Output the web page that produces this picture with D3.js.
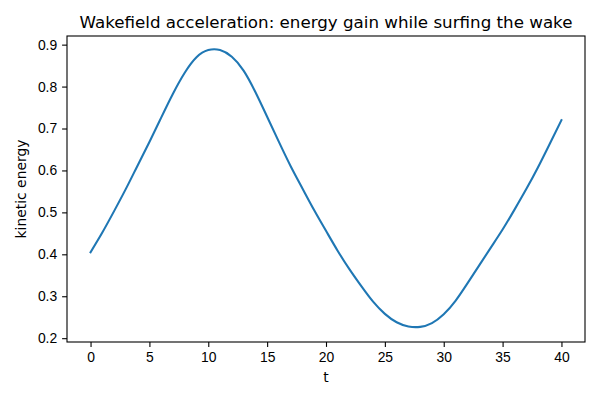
<!DOCTYPE html>
<html>
<head>
<meta charset="utf-8">
<script src="https://cdn.jsdelivr.net/npm/d3@7"></script>
<style>
  body { margin: 0; background: #fff; }
  svg { display: block; font-family: "DejaVu Sans", sans-serif; }
</style>
</head>
<body>
<div id="chart"></div>
<script>
// data
const tValues = d3.range(0, 41);
const energy = [0.405, 0.452, 0.503, 0.556, 0.612, 0.668, 0.726, 0.783, 0.833, 0.870, 0.887, 0.887,
  0.871, 0.838, 0.787, 0.728, 0.668, 0.610, 0.557, 0.505, 0.456,
  0.408, 0.364, 0.324, 0.287, 0.258, 0.238, 0.228, 0.227, 0.236, 0.257, 0.289, 0.330, 0.373,
  0.416, 0.459, 0.506, 0.555, 0.607, 0.663, 0.720];
const xTicks = [0, 5, 10, 15, 20, 25, 30, 35, 40];
const yTicks = [0.2, 0.3, 0.4, 0.5, 0.6, 0.7, 0.8, 0.9];

const width = 600;
const height = 400;
const margin = { top: 36, right: 15, bottom: 58, left: 67 };

const svg = d3.select('#chart')
  .append('svg')
  .attr('width', width)
  .attr('height', height);

const x = d3.scaleLinear()
  .domain([-2, 42])
  .range([margin.left, width - margin.right]);

const y = d3.scaleLinear()
  .domain([0.1909, 0.9206])
  .range([height - margin.bottom, margin.top]);

const points = tValues.map((t, i) => ({ t, e: energy[i] }));

// axes
const xAxis = d3.axisBottom(x)
  .tickValues(xTicks)
  .tickSize(4.9)
  .tickPadding(4.9)
  .tickFormat(d3.format('d'));

const yAxis = d3.axisLeft(y)
  .tickValues(yTicks)
  .tickSize(4.9)
  .tickPadding(4.9)
  .tickFormat(d3.format('.1f'));

const gx = svg.append('g')
  .attr('transform', `translate(0,${height - margin.bottom})`)
  .call(xAxis);

const gy = svg.append('g')
  .attr('transform', `translate(${margin.left},0)`)
  .call(yAxis);

[gx, gy].forEach(g => {
  g.select('.domain').remove();
  g.selectAll('.tick line').attr('stroke', '#000').attr('stroke-width', 1.1);
  g.selectAll('.tick text').attr('fill', '#000').style('font-size', '13.9px');
});

// line
const line = d3.line()
  .x(d => x(d.t))
  .y(d => y(d.e))
  .curve(d3.curveNatural);

svg.append('path')
  .datum(points)
  .attr('fill', 'none')
  .attr('stroke', '#1f77b4')
  .attr('stroke-width', 2.08)
  .attr('stroke-linecap', 'square')
  .attr('d', line);

// frame
svg.append('rect')
  .attr('x', margin.left)
  .attr('y', margin.top)
  .attr('width', width - margin.left - margin.right)
  .attr('height', height - margin.top - margin.bottom)
  .attr('fill', 'none')
  .attr('stroke', '#000')
  .attr('stroke-width', 1.1);

// labels
const cx = (margin.left + width - margin.right) / 2;

svg.append('text')
  .attr('x', cx)
  .attr('y', 27.7)
  .attr('text-anchor', 'middle')
  .style('font-size', '16.7px')
  .text('Wakefield acceleration: energy gain while surfing the wake');

svg.append('text')
  .attr('x', cx)
  .attr('y', 381.5)
  .attr('text-anchor', 'middle')
  .style('font-size', '13.9px')
  .text('t');

svg.append('text')
  .attr('transform', `translate(25.5,${(margin.top + height - margin.bottom) / 2}) rotate(-90)`)
  .attr('text-anchor', 'middle')
  .style('font-size', '13.9px')
  .text('kinetic energy');
</script>
</body>
</html>
